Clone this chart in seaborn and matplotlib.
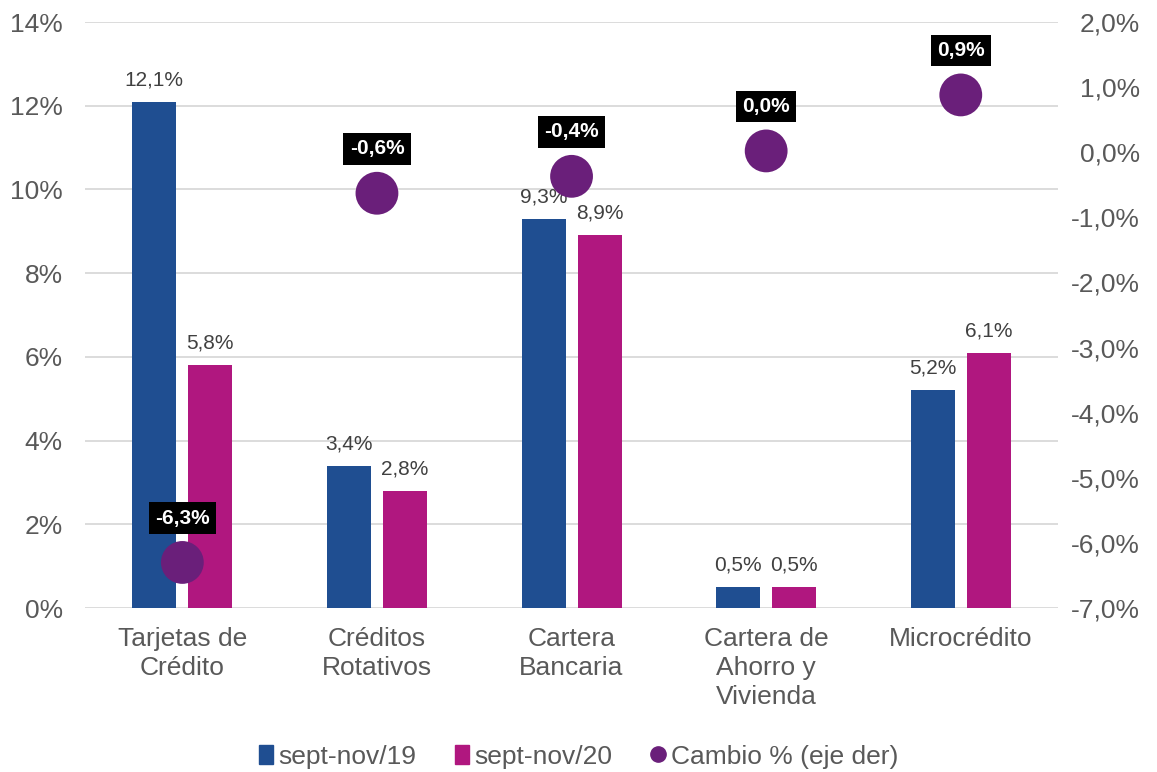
import matplotlib
matplotlib.use("Agg")
import matplotlib.pyplot as plt
import seaborn as sns
import pandas as pd
import numpy as np
from matplotlib.patches import Patch
from matplotlib.lines import Line2D
from matplotlib.ticker import FuncFormatter

# datos del grafico
categorias = ["Tarjetas de\nCrédito", "Créditos\nRotativos", "Cartera\nBancaria",
              "Cartera de\nAhorro y\nVivienda", "Microcrédito"]
series = ["sept-nov/19", "sept-nov/20"]
sept_nov_19 = [12.1, 3.4, 9.3, 0.5, 5.2]
sept_nov_20 = [5.8, 2.8, 8.9, 0.5, 6.1]
cambio = [-6.3, -0.63, -0.37, 0.02, 0.88]
serie_cambio = "Cambio % (eje der)"

azul = "#1F4E91"
magenta = "#B0177F"
morado = "#6A1F7A"
gris = "#595959"

sns.set_theme(style="white")
plt.rcParams["font.family"] = ["Liberation Sans", "DejaVu Sans"]

df = pd.DataFrame({
    "categoria": categorias * 2,
    "serie": [series[0]] * len(categorias) + [series[1]] * len(categorias),
    "valor": sept_nov_19 + sept_nov_20,
})

fig = plt.figure(figsize=(11.57, 7.72), dpi=100)
ax = fig.add_axes([0.0735, 0.2124, 0.841, 0.7591])

sns.barplot(data=df, x="categoria", y="valor", hue="serie", order=categorias,
            hue_order=series, palette=[azul, magenta], saturation=1,
            width=0.575, gap=0.214, linewidth=0, legend=False, ax=ax)

for cont in ax.containers:
    vals = [b.get_height() for b in cont]
    ax.bar_label(cont, labels=[f"{v:.1f}".replace(".", ",") + "%" for v in vals],
                 padding=9, fontsize=15, color="#404040")

ax.set_xlim(-0.5, len(categorias) - 0.5)
ax.set_ylim(0, 14)
ax.set_yticks(np.arange(0, 15, 2))
ax.yaxis.set_major_formatter(FuncFormatter(lambda v, p: f"{v:.0f}%"))
ax.set_xlabel("")
ax.set_ylabel("")
ax.yaxis.grid(True, color="#D9D9D9", lw=1.3)
ax.set_axisbelow(True)
ax.tick_params(axis="both", length=0, labelsize=19, colors=gris)
ax.tick_params(axis="y", pad=16)
ax.tick_params(axis="x", pad=14)
for lbl in ax.get_xticklabels():
    lbl.set_linespacing(1.25)
for s in ax.spines.values():
    s.set_visible(False)

# eje derecho: cambio porcentual
ax2 = ax.twinx()
pos = np.arange(len(categorias))
sns.scatterplot(x=pos, y=cambio, ax=ax2, s=950, color=morado, edgecolor="none",
                legend=False, zorder=5)
for x, v in zip(pos, cambio):
    ax2.annotate(f"{v:.1f}".replace(".", ",") + "%", (x, v), xytext=(0, 32),
                 textcoords="offset points", ha="center", va="center",
                 fontsize=15, fontweight="bold", color="white", zorder=6,
                 bbox=dict(boxstyle="square,pad=0.3", fc="black", ec="none"))
ax2.set_ylim(-7, 2)
ax2.set_yticks(np.arange(-7, 2.5, 1))
ax2.yaxis.set_major_formatter(FuncFormatter(lambda v, p: f"{v:.1f}%".replace(".", ",")))
ax2.tick_params(axis="y", length=0, labelsize=19, colors=gris, pad=59)
for lbl in ax2.get_yticklabels():
    lbl.set_horizontalalignment("right")
ax2.grid(False)
for s in ax2.spines.values():
    s.set_visible(False)
ax.set_xlim(-0.5, len(categorias) - 0.5)

handles = [Patch(color=azul), Patch(color=magenta),
           Line2D([], [], marker="o", ls="", color=morado, markersize=11)]
leg = fig.legend(handles, series + [serie_cambio], loc="center",
                 bbox_to_anchor=(0.5, 0.02), ncol=3, frameon=False, fontsize=19,
                 handlelength=0.55, handleheight=0.7, handletextpad=0.2,
                 columnspacing=1.45, borderpad=0)
for t in leg.get_texts():
    t.set_color(gris)

fig.savefig("out.png", dpi=100)
